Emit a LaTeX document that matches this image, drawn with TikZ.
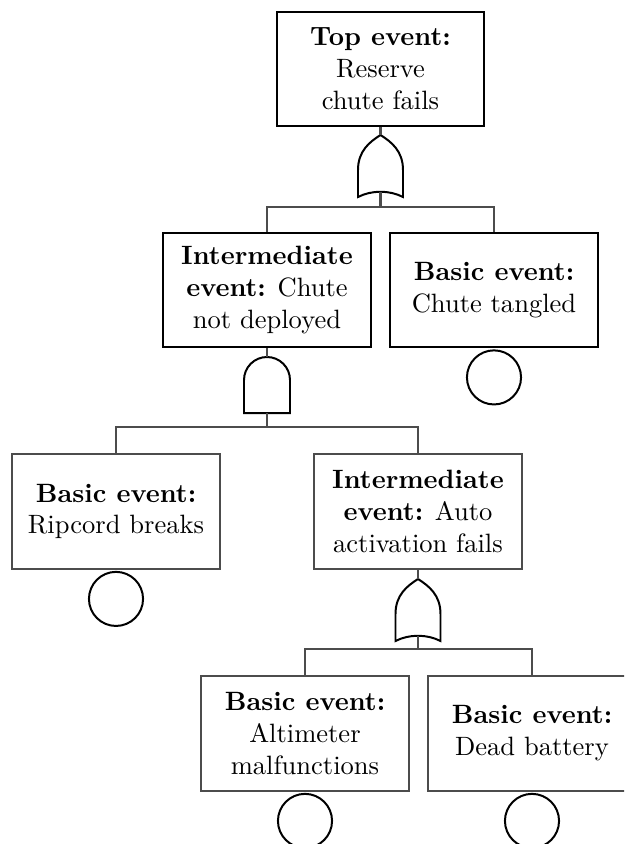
\documentclass[tikz,border=0pt]{standalone}
\newcommand\ftorgate[3]{% x, bottom-tip y, name
  \draw[gate] (#1-22.5,#2) -- (#1-22.5,#2-27)
    .. controls (#1-22.5,#2-46) and (#1-11,#2-55) .. (#1,#2-62)
    .. controls (#1+11,#2-55) and (#1+22.5,#2-46) .. (#1+22.5,#2-27)
    -- (#1+22.5,#2)
    .. controls (#1+9,#2-7) and (#1-9,#2-7) .. cycle;
  \coordinate (#3t) at (#1,#2-62);
  \coordinate (#3b) at (#1,#2-5.25);}
\newcommand\ftandgate[3]{% x, bottom y, name
  \draw[gate] (#1-23,#2) -- (#1-23,#2-33)
    .. controls (#1-23,#2-45.7) and (#1-12.7,#2-56) .. (#1,#2-56)
    .. controls (#1+12.7,#2-56) and (#1+23,#2-45.7) .. (#1+23,#2-33)
    -- (#1+23,#2) -- cycle;
  \coordinate (#3t) at (#1,#2-56);
  \coordinate (#3b) at (#1,#2);}
\begin{document}
\begin{tikzpicture}[x=0.377pt,y=-0.377pt,
  box/.style={draw=black,line width=0.75pt,fill=white,minimum width=78.4pt,
    minimum height=43pt,inner sep=0pt,align=center,font=\normalsize},
  lowbox/.style={box,draw=black!70},
  conn/.style={draw=black!70,line width=0.8pt},
  gate/.style={draw=black,line width=0.75pt},
  basic/.style={circle,draw=black,line width=0.75pt,minimum size=20.4pt,inner sep=0pt}]
\useasboundingbox (0,0) rectangle (624,844);
\clip (0,0) rectangle (624,844);

% event boxes
\node[box] (top) at (380.5,69) {\textbf{Top event:}\\Reserve\\chute fails};
\node[box] (int1) at (267,290) {\textbf{Intermediate}\\\textbf{event:} Chute\\not deployed};
\node[box] (ct) at (494,290) {\textbf{Basic event:}\\Chute tangled};
\node[lowbox] (rip) at (116,511.5) {\textbf{Basic event:}\\Ripcord breaks};
\node[lowbox] (int2) at (418,511.5) {\textbf{Intermediate}\\\textbf{event:} Auto\\activation fails};
\node[lowbox] (alt) at (305,733.5) {\textbf{Basic event:}\\Altimeter\\malfunctions};
\node[lowbox] (db) at (532,733.5) {\textbf{Basic event:}\\Dead battery};

% basic-event circles
\node[basic,anchor=north] (ctc) at ([yshift=-0.5pt]ct.south) {};
\node[basic,anchor=north] (ripc) at ([yshift=-0.5pt]rip.south) {};
\node[basic,anchor=north] (altc) at ([yshift=-0.5pt]alt.south) {};
\node[basic,anchor=north] (dbc) at ([yshift=-0.5pt]db.south) {};

% gates
\ftorgate{380.5}{197}{ga}
\ftandgate{267}{413}{gb}
\ftorgate{418}{641}{gc}

\coordinate (b1) at (380.5,207);
\coordinate (b2) at (267,427);
\coordinate (b3) at (418,649);

% connectors
\draw[conn] (top.south) -- (gat);
\draw[conn] (gab) -- (b1);
\draw[conn] (int1.north) |- (b1) -| (ct.north);
\draw[conn] (int1.south) -- (gbt);
\draw[conn] (gbb) -- (b2);
\draw[conn] (rip.north) |- (b2) -| (int2.north);
\draw[conn] (int2.south) -- (gct);
\draw[conn] (gcb) -- (b3);
\draw[conn] (alt.north) |- (b3) -| (db.north);
\end{tikzpicture}
\end{document}
